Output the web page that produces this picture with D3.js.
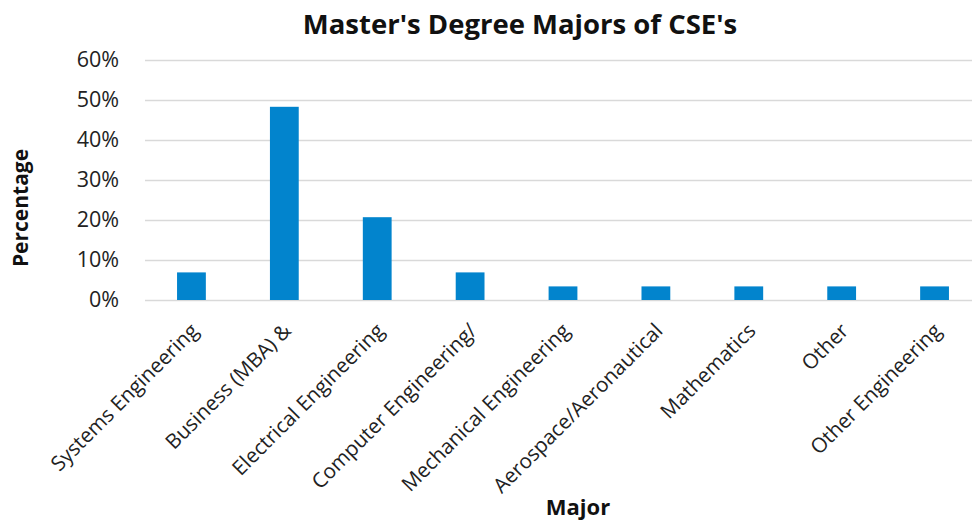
<!DOCTYPE html>
<html>
<head>
<meta charset="utf-8">
<script src="https://cdn.jsdelivr.net/npm/d3@7"></script>
<style>
  html, body { margin: 0; padding: 0; background: #fff; }
  svg { display: block; font-family: "Open Sans", sans-serif; }
</style>
</head>
<body>
<svg id="chart" width="972" height="521"></svg>
<script>
// Master's degree majors, share of respondents
var majors = [
  "Systems Engineering", "Business (MBA) &", "Electrical Engineering",
  "Computer Engineering/", "Mechanical Engineering", "Aerospace/Aeronautical",
  "Mathematics", "Other", "Other Engineering"
];
var shares = [0.069, 0.483, 0.207, 0.069, 0.034, 0.034, 0.034, 0.034, 0.034];
var yTicks = [0, 0.1, 0.2, 0.3, 0.4, 0.5, 0.6];

(function () {
  "use strict";
  var svg = d3.select("#chart");
  var M = { t: 60, r: -9, b: 221, l: 145 };
  var W = 972, H = 521;
  var pw = W - M.l - M.r, ph = H - M.t - M.b;

  var x = d3.scaleBand().domain(majors).range([0, pw]).paddingInner(0.69).paddingOuter(0.345);
  var y = d3.scaleLinear().domain([0, 0.6]).range([ph, 0]);

  var root = svg.append("g").attr("transform", "translate(" + M.l + "," + M.t + ")");

  // gridlines + y labels
  var ay = d3.axisLeft(y).tickValues(yTicks).tickSize(-pw).tickPadding(26)
    .tickFormat(d3.format(".0%"));
  var gy = root.append("g").call(ay).attr("font-family", null).attr("font-size", null);
  gy.select(".domain").remove();
  gy.selectAll("line").attr("stroke", "#d9d9d9").attr("stroke-width", 1.5);
  gy.selectAll("text").style("font-size", "21.5px").attr("fill", "#222");

  // bars
  root.selectAll("rect.bar").data(majors).enter().append("rect")
    .attr("class", "bar")
    .attr("x", function (d) { return x(d); })
    .attr("width", x.bandwidth())
    .attr("y", function (d, i) { return y(shares[i]); })
    .attr("height", function (d, i) { return ph - y(shares[i]); })
    .attr("fill", "#0284CD");

  // category labels, rotated
  root.selectAll("text.cat").data(majors).enter().append("text")
    .attr("class", "cat")
    .attr("transform", function (d) {
      return "translate(" + (x(d) + x.bandwidth() / 2 + 3) + "," + (ph + 27) + ") rotate(-45)";
    })
    .attr("text-anchor", "end")
    .attr("dy", "0.35em")
    .style("font-size", "20.6px").attr("fill", "#222")
    .text(function (d) { return d; });

  // title & axis titles
  svg.append("text").attr("x", 520).attr("y", 34).attr("text-anchor", "middle")
    .style("font-size", "27.5px").style("font-weight", "700").attr("fill", "#111")
    .text("Master's Degree Majors of CSE's");
  svg.append("text").attr("transform", "translate(28,208) rotate(-90)")
    .attr("text-anchor", "middle")
    .style("font-size", "21px").style("font-weight", "700").attr("fill", "#111")
    .text("Percentage");
  svg.append("text").attr("x", 578).attr("y", 515).attr("text-anchor", "middle")
    .style("font-size", "22px").style("font-weight", "700").attr("fill", "#111")
    .text("Major");
})();
</script>
</body>
</html>
